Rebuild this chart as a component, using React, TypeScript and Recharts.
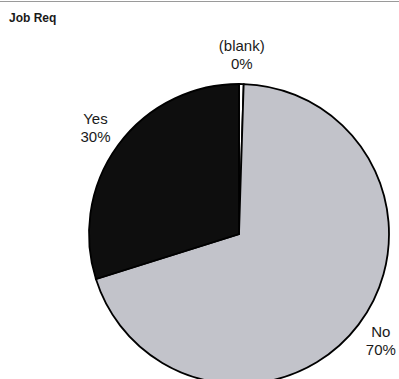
import React from "react";
import { PieChart, Pie, Cell } from "recharts";

const categories = ["(blank)", "No", "Yes"];
const values = [0.5, 70, 30];
const colors = ["#ffffff", "#c2c3ca", "#0e0e0e"];

const data = categories.map((name, i) => ({ name, value: values[i] }));

const RAD = Math.PI / 180;

const renderLabel = (props: any) => {
  const { cx, cy, midAngle, outerRadius, percent, name } = props;
  const r = outerRadius + 28;
  const x = cx + r * Math.cos(-midAngle * RAD);
  const y = cy + r * Math.sin(-midAngle * RAD);
  return (
    <text
      x={x}
      y={y}
      textAnchor="middle"
      fill="#1a1a1a"
      fontFamily="Liberation Sans, Arial, sans-serif"
      fontSize={15}
    >
      <tspan x={x} dy={-5}>
        {name}
      </tspan>
      <tspan x={x} dy={18}>
        {Math.round(percent * 100) + "%"}
      </tspan>
    </text>
  );
};

export default function App() {
  return (
    <div
      style={{
        position: "absolute",
        left: 0,
        top: 0,
        width: 399,
        height: 379,
        background: "#ffffff",
        overflow: "hidden",
      }}
    >
      <div
        style={{
          position: "absolute",
          left: 0,
          top: 1,
          width: 399,
          height: 1,
          background: "#9a9a9a",
        }}
      />
      <div
        style={{
          position: "absolute",
          left: 9,
          top: 11,
          fontFamily: "Liberation Sans, Arial, sans-serif",
          fontWeight: "bold",
          fontSize: 12,
          color: "#1a1a1a",
        }}
      >
        Job Req
      </div>
      <PieChart width={399} height={379} style={{ position: "absolute", left: 0, top: 0 }}>
        <Pie
          data={data}
          dataKey="value"
          nameKey="name"
          cx={234}
          cy={229}
          outerRadius={150}
          startAngle={90}
          endAngle={-270}
          stroke="#000000"
          strokeWidth={1.8}
          label={renderLabel}
          labelLine={false}
          isAnimationActive={false}
        >
          {data.map((d, i) => (
            <Cell key={d.name} fill={colors[i]} />
          ))}
        </Pie>
      </PieChart>
    </div>
  );
}
